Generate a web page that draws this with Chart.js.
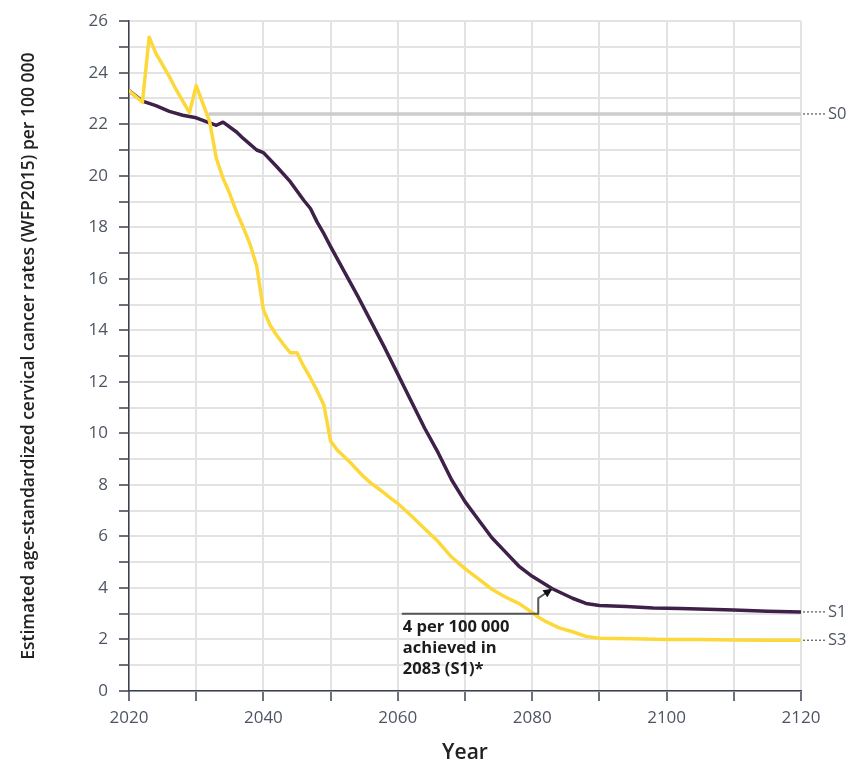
<!DOCTYPE html>
<html>
<head>
<meta charset="utf-8">
<script src="https://cdn.jsdelivr.net/npm/chart.js@4"></script>
<style>
	html, body { margin: 0; padding: 0; background: #fff; }
	#wrap { width: 858px; height: 771px; }
</style>
</head>
<body>
<div id="wrap"><canvas id="chartCervical" width="858" height="771"></canvas></div>
<script>
'use strict'

// S1 scenario (purple)
const s1Years = [2020, 2022, 2024, 2026, 2028, 2030, 2031, 2033, 2034, 2036, 2037, 2039, 2040, 2042, 2044, 2046, 2047, 2048, 2049, 2050,
	2052, 2054, 2056, 2058, 2060, 2062, 2064, 2066, 2068, 2070, 2072, 2074, 2076, 2078, 2080, 2083, 2086, 2088, 2090, 2094,
	2098, 2102, 2106, 2110, 2115, 2120];
const s1Values = [23.3, 22.9, 22.72, 22.5, 22.35, 22.25, 22.15, 21.96, 22.08, 21.7, 21.45, 21.0, 20.9, 20.35, 19.77, 19.05, 18.73, 18.2, 17.75, 17.25,
	16.3, 15.35, 14.35, 13.35, 12.3, 11.25, 10.2, 9.25, 8.2, 7.35, 6.65, 5.95, 5.4, 4.85, 4.45, 3.97, 3.6, 3.4, 3.32, 3.28,
	3.22, 3.2, 3.17, 3.14, 3.1, 3.07];

// S3 scenario (yellow)
const s3Years = [2020, 2022, 2023, 2024, 2025, 2026, 2027, 2028, 2029, 2030, 2031, 2032, 2033, 2034, 2035, 2036, 2037, 2038, 2039, 2040,
	2041, 2042, 2043, 2044, 2045, 2046, 2047, 2048, 2049, 2050, 2051, 2052, 2053, 2054, 2055, 2056, 2057, 2058, 2059, 2060,
	2062, 2064, 2066, 2068, 2070, 2072, 2074, 2076, 2078, 2080, 2081, 2082, 2084, 2086, 2088, 2090, 2095, 2100, 2105, 2110,
	2115, 2120];
const s3Values = [23.3, 22.86, 25.38, 24.75, 24.3, 23.85, 23.35, 22.9, 22.45, 23.5, 22.8, 22.1, 20.67, 19.9, 19.3, 18.6, 18.0, 17.35, 16.5, 14.8,
	14.2, 13.8, 13.45, 13.13, 13.13, 12.6, 12.15, 11.65, 11.1, 9.7, 9.35, 9.1, 8.85, 8.57, 8.3, 8.07, 7.88, 7.68, 7.47, 7.28,
	6.8, 6.3, 5.8, 5.2, 4.75, 4.35, 3.95, 3.65, 3.4, 3.05, 2.85, 2.7, 2.45, 2.3, 2.12, 2.05, 2.03, 2.0, 2.0, 1.98,
	1.97, 1.97];

// S0 status quo (grey, flat)
const s0Years = [2032, 2120];
const s0Values = [22.4, 22.4];

const seriesNames = ['S0', 'S1', 'S3'];

// annotation: elbow line and arrow to the S1 crossing of 4 per 100 000
const notePath = [[2060.6, 3], [2080.9, 3], [2080.9, 3.6]];
const noteTip = [2083, 3.97];
const noteText = ['4 per 100 000', 'achieved in', '2083 (S1)*'];

const colors = {
	s0: '#cdcdcd',
	s1: '#3e2049',
	s3: '#fdd83a',
	grid: '#e3e3e3',
	axis: '#3c4150',
	tick: '#4d5563',
	title: '#222222',
	note: '#1c1c1c',
};

function toPoints(xs, ys) {
	return xs.map(function (x, i) { return { x: x, y: ys[i] }; });
}

const endLabels = {
	id: 'endLabels',
	afterDatasetsDraw: function (chart) {
		const ctx = chart.ctx;
		const xs = chart.scales.x;
		const ys = chart.scales.y;

		// series names at the right end
		chart.data.datasets.forEach(function (ds) {
			const last = ds.data[ds.data.length - 1];
			const px = xs.getPixelForValue(last.x);
			const py = ys.getPixelForValue(last.y);
			ctx.save();
			ctx.strokeStyle = '#555';
			ctx.lineWidth = 1.2;
			ctx.setLineDash([2, 2]);
			ctx.beginPath();
			ctx.moveTo(px + 2, py);
			ctx.lineTo(px + 26, py);
			ctx.stroke();
			ctx.setLineDash([]);
			ctx.fillStyle = colors.tick;
			ctx.font = '16.5px "Open Sans"';
			ctx.textAlign = 'left';
			ctx.textBaseline = 'middle';
			ctx.fillText(ds.label, px + 27, py);
			ctx.restore();
		});

		// annotation
		ctx.save();
		ctx.strokeStyle = '#555';
		ctx.lineWidth = 2;
		ctx.beginPath();
		notePath.forEach(function (p, i) {
			const px = xs.getPixelForValue(p[0]);
			const py = ys.getPixelForValue(p[1]);
			if (i === 0) ctx.moveTo(px, py); else ctx.lineTo(px, py);
		});
		const last = notePath[notePath.length - 1];
		const ax = xs.getPixelForValue(last[0]);
		const ay = ys.getPixelForValue(last[1]);
		const tx = xs.getPixelForValue(noteTip[0]);
		const ty = ys.getPixelForValue(noteTip[1]);
		ctx.lineTo(tx, ty);
		ctx.stroke();
		const ang = Math.atan2(ty - ay, tx - ax);
		ctx.fillStyle = '#111';
		ctx.beginPath();
		ctx.moveTo(tx, ty);
		ctx.lineTo(tx - 10 * Math.cos(ang - 0.45), ty - 10 * Math.sin(ang - 0.45));
		ctx.lineTo(tx - 10 * Math.cos(ang + 0.45), ty - 10 * Math.sin(ang + 0.45));
		ctx.closePath();
		ctx.fill();

		const x0 = xs.getPixelForValue(notePath[0][0]);
		const y0 = ys.getPixelForValue(notePath[0][1]);
		ctx.fillStyle = colors.note;
		ctx.font = 'bold 16.5px "Open Sans"';
		ctx.textAlign = 'left';
		ctx.textBaseline = 'middle';
		noteText.forEach(function (t, i) {
			ctx.fillText(t, x0 + 1, y0 + 14 + i * 20.8);
		});
		ctx.restore();
	},
};

let chartCervical = new Chart(document.getElementById('chartCervical'), {
	type: 'line',
	data: {
		datasets: [
			{
				label: seriesNames[0],
				data: toPoints(s0Years, s0Values),
				borderColor: colors.s0,
				borderWidth: 3.5,
				order: 3,
			},
			{
				label: seriesNames[1],
				data: toPoints(s1Years, s1Values),
				borderColor: colors.s1,
				borderWidth: 3.5,
				order: 2,
			},
			{
				label: seriesNames[2],
				data: toPoints(s3Years, s3Values),
				borderColor: colors.s3,
				borderWidth: 3.5,
				order: 1,
			},
		],
	},
	options: {
		responsive: false,
		animation: false,
		elements: {
			point: { radius: 0 },
			line: { tension: 0, borderCapStyle: 'round', borderJoinStyle: 'round' },
		},
		layout: {
			padding: { top: 19, right: 57, bottom: 0, left: 0 },
		},
		plugins: {
			legend: { display: false },
			tooltip: { enabled: false },
		},
		scales: {
			x: {
				type: 'linear',
				min: 2020,
				max: 2120,
				afterFit: function (scale) { scale.height = 80; },
				grid: {
					color: colors.grid,
					lineWidth: 2,
					tickColor: colors.axis,
					tickWidth: 1.5,
					tickLength: 10,
				},
				border: { color: colors.axis, width: 1.5 },
				ticks: {
					stepSize: 10,
					autoSkip: false,
					maxRotation: 0,
					padding: 7,
					color: colors.tick,
					font: { family: 'Open Sans', size: 17 },
					callback: function (v) { return v % 20 === 0 ? String(v) : ''; },
				},
				title: {
					display: true,
					text: 'Year',
					color: colors.title,
					font: { family: 'Open Sans', size: 21, weight: '600' },
					padding: { top: 0, bottom: 5 },
				},
			},
			y: {
				min: 0,
				max: 26,
				afterFit: function (scale) { scale.width = 129; },
				grid: {
					color: colors.grid,
					lineWidth: 2,
					tickColor: colors.axis,
					tickWidth: 1.5,
					tickLength: 10,
				},
				border: { color: colors.axis, width: 1.5 },
				ticks: {
					stepSize: 1,
					autoSkip: false,
					padding: 11,
					color: colors.tick,
					font: { family: 'Open Sans', size: 17 },
					callback: function (v) { return v % 2 === 0 ? String(v) : ''; },
				},
				title: {
					display: true,
					text: 'Estimated age-standardized cervical cancer rates (WFP2015) per 100 000',
					color: colors.title,
					font: { family: 'Open Sans', size: 17.5, weight: '600' },
					padding: { top: 19, bottom: 0 },
				},
			},
		},
	},
	plugins: [endLabels],
});
</script>
</body>
</html>
